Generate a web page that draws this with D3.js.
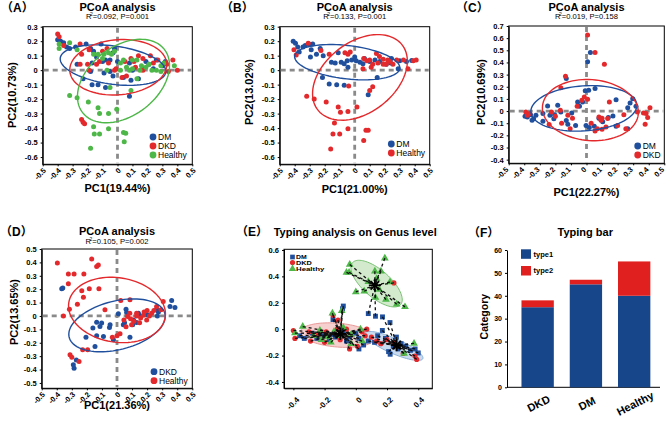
<!DOCTYPE html>
<html>
<head>
<meta charset="utf-8">
<script src="https://cdn.jsdelivr.net/npm/d3@7"></script>
<style>
body{margin:0;background:#fff;}
svg{display:block;}
</style>
</head>
<body>
<svg id="fig" width="668" height="422"></svg>
<script>
const svg = d3.select("#fig");
const FONT = '"Liberation Sans", Arial, "Noto Sans CJK SC", sans-serif';
const blue = "#1f4f9d", red = "#e4292c", green = "#4db748";

//----- data -----
// (A) DM / DKD / Healthy
const aDM = [[-0.40,0.21],[-0.38,0.20],[-0.36,0.19],[-0.34,0.16],[-0.32,0.15],[-0.28,0.16],[-0.21,0.18],[-0.18,0.15],[-0.16,0.13],[-0.11,0.18],[-0.02,0.15],[-0.03,0.12],[-0.27,0.04],[-0.17,0.05],[-0.08,0.07],[-0.10,0.06],[-0.05,0.07],[0.0,0.06],[0.08,0.05],[0.19,0.06],[0.21,0.04],[0.26,0.07],[0.32,0.06],[-0.18,-0.01],[-0.09,-0.02],[-0.05,-0.01],[0.10,0.0],[0.24,0.01],[0.04,-0.05],[0.09,-0.07],[-0.23,-0.06],[-0.17,-0.10],[-0.13,-0.10],[-0.08,-0.12],[0.08,-0.18],[-0.14,0.09],[0.30,0.03],[0.17,0.01],[-0.03,-0.04],[0.14,-0.06]];
const aDKD = [[-0.40,0.25],[-0.39,0.23],[-0.36,0.17],[-0.25,0.18],[-0.24,0.11],[-0.19,0.14],[-0.07,0.15],[-0.10,0.13],[-0.25,0.04],[-0.20,0.04],[-0.14,0.04],[-0.06,0.05],[0.05,0.06],[0.11,0.06],[0.24,0.05],[0.37,0.07],[0.27,0.07],[-0.19,0.0],[-0.01,0.01],[0.17,0.0],[0.34,-0.01],[0.40,0.0],[0.06,-0.04],[0.03,-0.05],[-0.24,-0.34],[-0.23,-0.36],[-0.22,-0.37],[0.14,0.10],[0.33,0.04],[0.12,0.02],[-0.12,0.06],[0.09,0.08],[0.22,0.10],[0.17,0.08],[-0.02,0.0]];
const aHealthy = [[-0.39,0.18],[-0.39,0.15],[-0.32,0.19],[-0.27,0.14],[-0.16,0.11],[-0.13,0.11],[-0.09,0.11],[-0.06,0.12],[-0.04,0.11],[-0.02,0.13],[-0.10,0.08],[0.02,0.05],[0.04,0.07],[0.10,0.07],[0.13,0.07],[0.21,0.04],[0.29,0.03],[0.31,0.05],[0.38,0.03],[-0.07,0.0],[0.02,0.0],[0.08,0.0],[0.10,0.01],[0.15,0.0],[0.19,0.02],[0.23,0.0],[0.26,0.0],[0.29,-0.01],[0.13,-0.06],[-0.05,-0.12],[0.09,-0.14],[-0.32,-0.175],[-0.27,-0.19],[-0.195,-0.22],[-0.13,-0.26],[-0.12,-0.30],[-0.06,-0.30],[-0.005,-0.27],[-0.16,-0.39],[-0.12,-0.44],[-0.155,-0.44],[-0.06,-0.405],[0.04,-0.43],[0.055,-0.435],[0.045,-0.495],[-0.18,-0.54],[0.16,0.03],[0.06,0.02]];
const aEll = [{cx:-0.03,cy:0.035,a:0.356,b:0.132,deg:-8},{cx:0.005,cy:0.02,a:0.325,b:0.19,deg:5},{cx:0.04,cy:-0.075,a:0.35,b:0.235,deg:40}];

// (B) DM / Healthy
const bDM = [[-0.41,0.20],[-0.395,0.185],[-0.38,0.16],[-0.37,0.125],[-0.345,0.16],[-0.33,0.17],[-0.305,0.18],[-0.28,0.18],[-0.29,0.14],[-0.23,0.15],[-0.255,0.11],[-0.295,0.09],[-0.21,0.10],[-0.155,0.055],[-0.11,0.12],[-0.09,0.055],[-0.07,0.045],[-0.05,0.065],[-0.045,0.02],[-0.02,0.07],[0.01,0.065],[0.035,0.055],[0.055,0.045],[0.0,0.09],[0.065,0.08],[0.10,0.06],[0.135,0.07],[0.167,0.06],[0.21,0.04],[0.245,0.08],[0.30,0.065],[0.345,0.06],[0.38,0.067],[0.29,0.01],[0.15,-0.05],[-0.215,-0.05],[-0.17,-0.095],[-0.12,-0.10],[-0.07,-0.105],[0.09,-0.17],[-0.13,0.05],[0.24,0.05]];
const bHealthy = [[-0.405,0.14],[-0.39,0.105],[-0.31,0.185],[-0.225,0.135],[-0.17,0.11],[-0.065,0.12],[-0.045,0.11],[-0.03,0.125],[0.055,0.01],[0.08,0.065],[0.10,0.07],[0.12,0.04],[0.145,0.115],[0.165,0.095],[0.19,0.075],[0.21,0.04],[0.235,0.06],[0.255,0.04],[0.28,0.07],[0.325,0.07],[0.355,0.01],[0.39,0.065],[0.41,0.07],[0.11,0.02],[0.155,0.05],[0.19,0.04],[0.12,-0.115],[0.10,-0.14],[-0.04,-0.11],[-0.32,-0.18],[-0.27,-0.20],[-0.19,-0.22],[-0.11,-0.255],[-0.095,-0.29],[-0.045,-0.285],[0.015,-0.255],[-0.135,-0.365],[-0.145,-0.44],[-0.10,-0.44],[-0.045,-0.405],[0.075,-0.415],[0.09,-0.415],[0.06,-0.485],[-0.16,-0.545],[0.06,0.08],[0.22,0.07]];
const bEll = [{cx:-0.05,cy:0.055,a:0.353,b:0.115,deg:-7},{cx:0.035,cy:-0.05,a:0.36,b:0.24,deg:40}];

// (C) DM / DKD
const cDM = [[-0.395,-0.043],[-0.38,-0.048],[-0.36,-0.03],[-0.34,-0.063],[-0.35,-0.075],[-0.325,-0.035],[-0.28,-0.083],[-0.25,0.042],[-0.235,-0.035],[-0.21,-0.063],[-0.205,-0.03],[-0.185,0.047],[-0.165,-0.008],[-0.13,-0.078],[-0.12,-0.108],[-0.095,-0.015],[-0.07,-0.118],[-0.057,0.075],[-0.045,0.039],[-0.025,0.075],[-0.008,0.167],[0.014,0.172],[0.055,0.185],[0.007,0.405],[0.025,0.482],[-0.003,-0.118],[0.018,-0.136],[0.05,-0.125],[0.104,-0.088],[0.14,-0.054],[0.17,-0.04],[0.19,0.094],[0.19,-0.125],[0.265,0.028],[0.28,0.067],[0.297,0.102],[0.318,0.039],[0.265,-0.145],[-0.13,0.267],[0.08,-0.06],[-0.28,-0.02]];
const cDKD = [[-0.39,-0.008],[-0.38,-0.035],[-0.365,-0.02],[-0.225,-0.008],[-0.2,-0.043],[-0.165,0.192],[-0.135,0.287],[-0.168,0.007],[-0.12,-0.035],[-0.105,-0.145],[-0.06,0.04],[-0.03,0.089],[-0.014,0.116],[0.007,0.097],[0.007,0.625],[0.055,0.482],[0.115,0.386],[0.08,-0.048],[0.093,-0.076],[0.1,-0.06],[0.07,-0.145],[0.055,-0.164],[0.1,-0.15],[0.125,-0.131],[0.136,-0.062],[0.147,0.075],[0.2,-0.118],[0.253,-0.145],[0.327,-0.008],[0.366,-0.015],[0.383,-0.021],[0.408,0.028],[0.393,-0.054],[0.377,-0.108],[-0.24,-0.11],[-0.16,-0.1],[0.24,-0.03],[-0.09,-0.06],[0.03,-0.1]];
const cEll = [{cx:-0.017,cy:0.022,a:0.342,b:0.185,deg:6},{cx:0.025,cy:0.008,a:0.31,b:0.25,deg:-10}];

// (D) DKD / Healthy
const dDKD = [[-0.367,0.203],[-0.36,0.208],[-0.135,-0.046],[-0.113,-0.078],[-0.102,-0.053],[-0.206,-0.158],[-0.135,-0.148],[-0.09,-0.153],[-0.146,-0.228],[-0.05,-0.086],[-0.046,-0.066],[-0.024,-0.178],[0.009,0.016],[0.06,0.05],[0.064,0.026],[0.042,-0.066],[0.086,-0.158],[0.104,-0.066],[0.13,-0.049],[0.142,0.021],[0.155,0.0],[0.263,0.05],[0.268,0.0],[0.275,0.03],[0.363,0.116],[0.385,0.063],[0.352,0.07],[-0.29,-0.365],[-0.285,-0.39],[-0.27,-0.328],[0.05,-0.05],[0.11,-0.03],[0.2,0.01],[-0.16,-0.09]];
const dHealthy = [[-0.396,0.395],[-0.323,0.313],[-0.285,0.313],[-0.22,0.313],[-0.323,0.24],[-0.234,0.188],[-0.223,0.14],[-0.184,0.203],[-0.168,0.425],[-0.135,0.37],[-0.124,0.38],[-0.12,0.203],[-0.263,0.088],[-0.316,0.051],[-0.356,0.0],[-0.08,0.046],[-0.312,-0.29],[-0.3,-0.308],[-0.252,-0.34],[-0.228,-0.253],[-0.195,-0.253],[-0.031,-0.158],[0.0,-0.148],[0.02,-0.133],[0.025,0.116],[0.086,0.121],[0.046,-0.03],[0.07,-0.004],[0.09,-0.02],[0.113,-0.04],[0.13,0.0],[0.157,-0.015],[0.175,0.005],[0.197,-0.03],[0.215,0.0],[0.23,0.02],[0.245,0.04],[0.263,0.07],[0.292,0.046],[0.307,0.108],[0.2,0.04],[0.15,-0.05],[0.097,-0.066],[0.13,0.02],[0.085,0.02],[0.18,0.03],[0.06,-0.08]];
const dEll = [{cx:0.0,cy:-0.07,a:0.33,b:0.18,deg:17},{cx:0.0,cy:0.045,a:0.325,b:0.24,deg:-12}];

// (E) typing on genus level
const eDM = [[-0.33,-0.07],[-0.36,-0.05],[-0.25,-0.07],[-0.21,-0.05],[-0.17,-0.08],[-0.13,-0.06],[-0.08,-0.02],[-0.04,-0.06],[0.0,-0.03],[0.02,-0.07],[0.05,-0.12],[0.02,-0.15],[-0.28,-0.03],[-0.15,-0.04],[-0.06,-0.09],[0.17,-0.01],[0.19,-0.07],[0.21,-0.17],[0.22,-0.19],[0.26,-0.06],[0.29,-0.11],[0.32,-0.13],[0.35,-0.16],[0.38,-0.15],[0.40,-0.18],[0.27,-0.15],[0.24,-0.13],[0.14,-0.05],[0.12,-0.10],[0.08,-0.09],[-0.146,0.073],[-0.08,0.175],[-0.085,0.155],[0.08,0.118],[0.126,0.098],[0.171,0.093],[0.219,0.05]];
const eDKD = [[-0.40,-0.01],[-0.39,-0.07],[-0.29,-0.09],[-0.24,-0.04],[-0.30,-0.02],[-0.19,-0.02],[-0.12,0.0],[-0.06,0.0],[-0.04,-0.15],[0.01,-0.13],[0.06,-0.05],[0.07,0.0],[-0.10,-0.08],[-0.20,-0.10],[0.04,-0.02],[0.133,-0.09],[0.20,-0.08],[0.24,-0.10],[0.304,-0.184],[0.379,-0.204],[0.39,-0.229],[0.10,-0.06],[0.16,-0.11],[-0.146,0.106],[-0.114,0.068],[0.244,0.35]];
const eHealthy = [[-0.34,0.02],[-0.39,-0.03],[-0.27,-0.05],[-0.23,-0.01],[-0.18,-0.06],[-0.14,-0.02],[-0.11,-0.05],[-0.08,0.01],[-0.03,-0.04],[-0.03,-0.11],[0.04,-0.09],[-0.15,0.12],[-0.09,0.14],[-0.16,-0.10],[-0.22,-0.08],[0.03,0.0],[-0.039,0.49],[-0.043,0.43],[-0.06,0.43],[0.054,0.287],[0.122,0.438],[0.161,0.438],[0.186,0.538],[0.133,0.382],[0.126,0.239],[0.193,0.224],[0.262,0.189],[0.315,0.169],[0.0,0.282],[0.219,0.357],[0.309,-0.184],[0.373,-0.108],[0.08,0.36],[0.15,0.30]];
const eCenters = [[0.122,0.332],[-0.099,-0.035],[0.262,-0.121]];
const eEll = [{cx:0.133,cy:0.345,a:0.222,b:0.095,deg:-48},{cx:-0.117,cy:-0.045,a:0.24,b:0.09,deg:-6},{cx:0.243,cy:-0.127,a:0.21,b:0.055,deg:-28}];

// (F) typing bar
const fCats = ["DKD","DM","Healthy"];
const fType1 = [35,45,40];
const fType2 = [3,2,15];

//----- helpers -----
function fmt(d){ return Math.abs(d) < 1e-9 ? "0" : String(+d.toFixed(1)); }
function tenths(a,b){ return d3.range(a,b+1).map(v=>v/10); }
function ellipse(e){
    const th = e.deg*Math.PI/180;
    return d3.range(0,364,4).map(k=>{
        const t = k*Math.PI/180;
        return [e.cx + e.a*Math.cos(t)*Math.cos(th) - e.b*Math.sin(t)*Math.sin(th),
                e.cy + e.a*Math.cos(t)*Math.sin(th) + e.b*Math.sin(t)*Math.cos(th)];
    });
}
function txt(g, x, y, s, size, bold){
    return g.append("text").attr("x",x).attr("y",y).text(s)
        .attr("font-family",FONT).attr("font-size",size)
        .attr("font-weight",bold ? "bold" : "normal").attr("fill","#000");
}
function styleAxis(a, size){
    a.attr("font-family",FONT).attr("font-size",size).attr("font-weight","bold");
    a.selectAll("path,line").attr("stroke","#000");
}
function subtitle(g, x, y, r2, p){
    const t = g.append("text").attr("x",x).attr("y",y).attr("text-anchor","middle")
        .attr("font-family",FONT).attr("font-size",7.6);
    t.append("tspan").text("R");
    t.append("tspan").text("2").attr("font-size",5).attr("dx",-1.5).attr("dy",-3);
    t.append("tspan").text("=" + r2 + ", P=" + p).attr("dy",3);
}

//----- PCoA panels -----
function drawPcoa(c){
    const [L,T,R,B] = c.box;
    const x = d3.scaleLinear().domain([-0.5,0.5]).range([L,R]);
    const y = d3.scaleLinear().domain(c.yDom).range([B,T]);
    const g = svg.append("g");

    const ya = g.append("g").attr("transform",`translate(${L},0)`)
        .call(d3.axisLeft(y).tickValues(c.yTicks).tickFormat(fmt).tickSize(2).tickPadding(3).tickSizeOuter(0));
    styleAxis(ya, 7.5);
    const xa = g.append("g").attr("transform",`translate(0,${B})`)
        .call(d3.axisBottom(x).tickValues(tenths(-5,5)).tickFormat(fmt).tickSize(2).tickSizeOuter(0));
    styleAxis(xa, 7.5);
    xa.selectAll("text").attr("y",0).attr("dy","0.35em").attr("text-anchor","end")
        .attr("transform",`translate(${c.tickDx || 1.5},5) rotate(-45)`);

    g.append("rect").attr("x",L).attr("y",T).attr("width",R-L).attr("height",B-T)
        .attr("fill","none").attr("stroke","#000").attr("stroke-width",1);

    // zero lines
    g.append("line").attr("x1",x(0)).attr("x2",x(0)).attr("y1",T+1).attr("y2",B-1)
        .attr("stroke","#8a8a8a").attr("stroke-width",2.8).attr("stroke-dasharray","5,4");
    g.append("line").attr("x1",L+1).attr("x2",R-1).attr("y1",y(0)).attr("y2",y(0))
        .attr("stroke","#8a8a8a").attr("stroke-width",2.8).attr("stroke-dasharray","5,4");

    c.groups.forEach(gr=>{
        g.append("g").selectAll("circle").data(gr.pts).join("circle")
            .attr("cx",d=>x(d[0])).attr("cy",d=>y(d[1])).attr("r",2.5).attr("fill",gr.color);
    });
    const line = d3.line().x(d=>x(d[0])).y(d=>y(d[1]));
    c.groups.forEach(gr=>{
        g.append("path").attr("d",line(ellipse(gr.ell))).attr("fill","none")
            .attr("stroke",gr.color).attr("stroke-width",1.4);
    });

    // legend
    c.groups.forEach((gr,i)=>{
        g.append("circle").attr("cx",c.legend[0]).attr("cy",c.legend[1]+i*9).attr("r",3.4).attr("fill",gr.color);
        txt(g, c.legend[0]+5, c.legend[1]+i*9+3, gr.name, 8.5, false);
    });

    txt(g, c.letterX, c.titleY+1, "（" + c.letter + "）", 12, true);
    txt(g, x(0), c.titleY, "PCoA analysis", 11, true).attr("text-anchor","middle");
    subtitle(g, x(0), c.titleY+8.8, c.r2, c.p);
    txt(g, x(0), c.xlabY, c.xlab, 11, true).attr("text-anchor","middle");
    txt(g, 0, 0, c.ylab, 11, true).attr("text-anchor","middle").attr("dy","0.35em")
        .attr("transform",`translate(${c.ylabX},${c.ylabY}) rotate(-90)`);
}

drawPcoa({box:[42.7,26.7,192.3,164.3], yDom:[-0.65,0.3], yTicks:tenths(-6,3),
    groups:[{name:"DM",pts:aDM,color:blue,ell:aEll[0]},{name:"DKD",pts:aDKD,color:red,ell:aEll[1]},{name:"Healthy",pts:aHealthy,color:green,ell:aEll[2]}],
    legend:[153,137], letter:"A", letterX:1, titleY:10.5, r2:"0.092", p:"0.001",
    xlab:"PC1(19.44%)", xlabY:192, ylab:"PC2(10.73%)", ylabX:12.5, ylabY:95});

drawPcoa({box:[279.7,26.7,429.7,164.3], yDom:[-0.65,0.3], yTicks:tenths(-6,3),
    groups:[{name:"DM",pts:bDM,color:blue,ell:bEll[0]},{name:"Healthy",pts:bHealthy,color:red,ell:bEll[1]}],
    legend:[391.3,144], letter:"B", letterX:221, titleY:10.5, r2:"0.133", p:"0.001",
    xlab:"PC1(21.00%)", xlabY:193, ylab:"PC2(13.02%)", ylabX:249, ylabY:92});

drawPcoa({box:[508.7,26,664.3,163.3], yDom:[-0.43,0.7], yTicks:tenths(-4,7), tickDx:-2,
    groups:[{name:"DM",pts:cDM,color:blue,ell:cEll[0]},{name:"DKD",pts:cDKD,color:red,ell:cEll[1]}],
    legend:[637.7,146], letter:"C", letterX:456, titleY:10.5, r2:"0.019", p:"0.158",
    xlab:"PC1(22.27%)", xlabY:196, ylab:"PC2(10.69%)", ylabX:481, ylabY:92});

drawPcoa({box:[41.7,249,192.3,388.3], yDom:[-0.54,0.5], yTicks:tenths(-5,5),
    groups:[{name:"DKD",pts:dDKD,color:blue,ell:dEll[0]},{name:"Healthy",pts:dHealthy,color:red,ell:dEll[1]}],
    legend:[154,371.7], letter:"D", letterX:0, titleY:235, r2:"0.105", p:"0.002",
    xlab:"PC1(21.36%)", xlabY:409, ylab:"PC2(13.65%)", ylabX:14.2, ylabY:312});

//----- (E) -----
(function(){
    const L=284, T=249.3, R=432.3, B=388.3;
    const x = d3.scaleLinear().domain([-0.46,0.49]).range([L,R]);
    const y = d3.scaleLinear().domain([-0.448,0.605]).range([B,T]);
    const g = svg.append("g");
    const ya = g.append("g").attr("transform",`translate(${L},0)`)
        .call(d3.axisLeft(y).tickValues([-0.4,-0.2,0,0.2,0.4,0.6]).tickFormat(fmt).tickSize(2).tickPadding(3).tickSizeOuter(0));
    styleAxis(ya, 7.5);
    const xa = g.append("g").attr("transform",`translate(0,${B})`)
        .call(d3.axisBottom(x).tickValues([-0.4,-0.2,0,0.2,0.4]).tickFormat(fmt).tickSize(2).tickSizeOuter(0));
    styleAxis(xa, 8);
    xa.selectAll("text").attr("y",0).attr("dy","0.35em").attr("text-anchor","end")
        .attr("transform","translate(4,10) rotate(-45)");
    g.append("rect").attr("x",L).attr("y",T).attr("width",R-L).attr("height",B-T)
        .attr("fill","none").attr("stroke","#000");

    const line = d3.line().x(d=>x(d[0])).y(d=>y(d[1]));
    const ellStyle = [["#d3eacd","#78c272"],["#f5d0cf","#e99a98"],["#c9dcef","#8aafd6"]];
    eEll.forEach((e,i)=>{
        g.append("path").attr("d",line(ellipse(e))).attr("fill",ellStyle[i][0])
            .attr("stroke",ellStyle[i][1]).attr("stroke-width",1);
    });

    const sq = d3.symbol().type(d3.symbolSquare).size(24);
    const tri = d3.symbol().type(d3.symbolTriangle).size(26);
    g.append("g").selectAll("path").data(eDM).join("path").attr("d",sq)
        .attr("transform",d=>`translate(${x(d[0])},${y(d[1])})`).attr("fill",blue);
    g.append("g").selectAll("circle").data(eDKD).join("circle")
        .attr("cx",d=>x(d[0])).attr("cy",d=>y(d[1])).attr("r",2.6).attr("fill",red);
    g.append("g").selectAll("path").data(eHealthy).join("path").attr("d",tri)
        .attr("transform",d=>`translate(${x(d[0])},${y(d[1])})`).attr("fill",green);

    // dashed star lines from every sample to its nearest type centre
    const all = eDM.concat(eDKD, eHealthy);
    const nearest = p => eCenters.reduce((b,c)=> (Math.hypot(p[0]-c[0],p[1]-c[1]) < Math.hypot(p[0]-b[0],p[1]-b[1]) ? c : b));
    g.append("g").selectAll("line").data(all).join("line")
        .attr("x1",d=>x(d[0])).attr("y1",d=>y(d[1]))
        .attr("x2",d=>x(nearest(d)[0])).attr("y2",d=>y(nearest(d)[1]))
        .attr("stroke","#111").attr("stroke-width",1.3).attr("stroke-dasharray","3,3");
    eCenters.forEach(c=>{
        [0,45,90,135].forEach(a=>{
            const r = a*Math.PI/180;
            g.append("line").attr("x1",x(c[0])-6*Math.cos(r)).attr("x2",x(c[0])+6*Math.cos(r))
                .attr("y1",y(c[1])-6*Math.sin(r)).attr("y2",y(c[1])+6*Math.sin(r))
                .attr("stroke","#000").attr("stroke-width",1.8);
        });
    });

    // legend (squeezed text, as in the original)
    const lx = 292.5;
    g.append("path").attr("d",d3.symbol().type(d3.symbolSquare).size(22)).attr("transform",`translate(${lx},257)`).attr("fill",blue);
    g.append("circle").attr("cx",lx).attr("cy",262.6).attr("r",2.6).attr("fill",red);
    g.append("path").attr("d",d3.symbol().type(d3.symbolTriangle).size(24)).attr("transform",`translate(${lx},268.8)`).attr("fill",green);
    [["DM",10.7],["DKD",15.7],["Healthy",28.3]].forEach(([s,w],i)=>
        txt(g, 296, 259.2+i*5.8, s, 5.6, true).attr("textLength",w).attr("lengthAdjust","spacingAndGlyphs"));

    txt(g, 236, 236, "（E）", 12, true);
    txt(g, 273.7, 235.5, "Typing analysis on Genus level", 11, true);
})();

//----- (F) -----
(function(){
    const g = svg.append("g");
    const L=507, R=660, B=387.3, T=250;
    const x = d3.scaleBand().domain(fCats).range([L,R]).paddingInner(0.33).paddingOuter(0.25).align(0.6);
    const y = d3.scaleLinear().domain([0,60]).range([B,T]);
    const ya = g.append("g").attr("transform",`translate(${L},0)`)
        .call(d3.axisLeft(y).tickValues(d3.range(0,61,10)).tickSize(2).tickPadding(3).tickSizeOuter(0));
    styleAxis(ya, 7);
    g.append("line").attr("x1",L).attr("x2",R).attr("y1",B).attr("y2",B).attr("stroke","#000");

    const rows = fCats.map((c,i)=>({cat:c, type1:fType1[i], type2:fType2[i]}));
    const stack = d3.stack().keys(["type1","type2"])(rows);
    const cols = {type1:"#17468b", type2:"#e0201f"};
    stack.forEach(s=>{
        g.append("g").selectAll("rect").data(s).join("rect")
            .attr("x",d=>x(d.data.cat)).attr("width",x.bandwidth())
            .attr("y",d=>y(d[1])).attr("height",d=>y(d[0])-y(d[1]))
            .attr("fill",cols[s.key]);
    });

    fCats.forEach(c=>{
        txt(g, 0, 0, c, 11, true).attr("text-anchor","middle").attr("dy","0.35em")
            .attr("transform",`translate(${x(c)+x.bandwidth()/2+1},${403.5}) rotate(-27)`);
    });

    [["type1",249.3],["type2",266]].forEach(([k,yy])=>{
        g.append("rect").attr("x",521).attr("y",yy).attr("width",10).attr("height",9.5).attr("fill",cols[k]);
        txt(g, 533.5, yy+7.3, k, 7.5, true);
    });

    txt(g, 0, 0, "Category", 10.5, true).attr("text-anchor","middle").attr("dy","0.35em")
        .attr("transform","translate(484.3,316.7) rotate(-90)");
    txt(g, 468, 237, "（F）", 12, true);
    txt(g, 585.3, 236, "Typing bar", 11, true).attr("text-anchor","middle");
})();
</script>
</body>
</html>
